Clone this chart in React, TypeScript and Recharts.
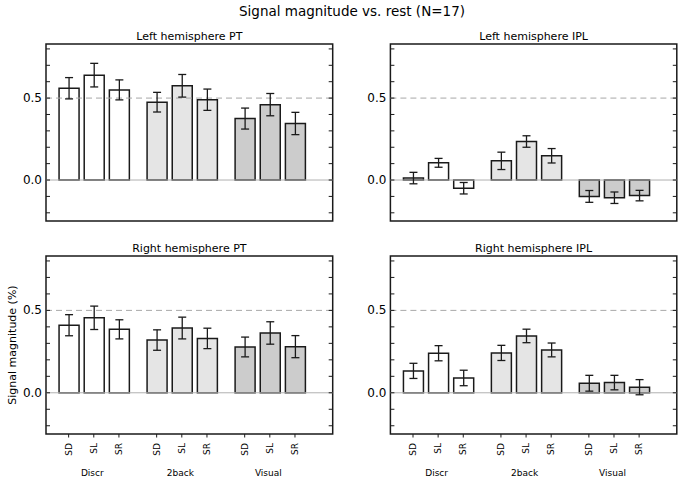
import React from "react";
import {
  BarChart,
  Bar,
  XAxis,
  YAxis,
  ErrorBar,
  Cell,
  ReferenceLine,
  ReferenceArea,
} from "recharts";

const groups = ["Discr", "2back", "Visual"];
const conditions = ["SD", "SL", "SR"];
const yTicks = [-0.2, -0.1, 0, 0.1, 0.2, 0.3, 0.4, 0.5, 0.6, 0.7, 0.8];
const yLabels = [0, 0.5];

// mean signal per bar (Discr SD/SL/SR, 2back SD/SL/SR, Visual SD/SL/SR)
const leftPT = [0.56, 0.64, 0.55, 0.475, 0.575, 0.49, 0.375, 0.46, 0.345];
const leftPTErr = [0.065, 0.072, 0.061, 0.06, 0.069, 0.065, 0.064, 0.068, 0.068];
const leftIPL = [0.012, 0.105, -0.05, 0.117, 0.235, 0.148, -0.1, -0.108, -0.095];
const leftIPLErr = [0.035, 0.027, 0.035, 0.053, 0.035, 0.044, 0.036, 0.035, 0.032];
const rightPT = [0.41, 0.455, 0.385, 0.32, 0.393, 0.33, 0.278, 0.363, 0.28];
const rightPTErr = [0.064, 0.071, 0.058, 0.062, 0.066, 0.062, 0.06, 0.068, 0.067];
const rightIPL = [0.133, 0.24, 0.09, 0.242, 0.345, 0.26, 0.058, 0.062, 0.034];
const rightIPLErr = [0.046, 0.046, 0.047, 0.046, 0.041, 0.042, 0.048, 0.044, 0.046];

const GROUP_FILLS = ["#ffffff", "#e5e5e5", "#cccccc"];
const GROUP_STEP = 3.5;
const X_MIN = -0.9;
const X_MAX = 10.5;
const Y_MIN = -0.25;
const Y_MAX = 0.83;
const FONT = "'DejaVu Sans', sans-serif";
const INK = "#1a1a1a";

const xPos = groups.flatMap((_, gi) => conditions.map((_, ci) => gi * GROUP_STEP + ci));

const buildRows = (values: number[], errs: number[]) =>
  values.map((v, i) => ({ x: xPos[i], value: v, err: errs[i], group: Math.floor(i / 3) }));

const isLabeled = (v: number) => yLabels.some((l) => Math.abs(l - v) < 1e-9);

const LeftTick = (props: any) => {
  const { x, y, payload } = props;
  const v = payload.value;
  return (
    <g>
      <line x1={x} x2={x + 4} y1={y} y2={y} stroke={INK} strokeWidth={1} />
      {isLabeled(v) && (
        <text
          x={x - 4}
          y={y}
          textAnchor="end"
          dominantBaseline="central"
          fontSize={12}
          fontFamily={FONT}
          fill="#000"
        >
          {v.toFixed(1)}
        </text>
      )}
    </g>
  );
};

const RightTick = (props: any) => {
  const { x, y } = props;
  return <line x1={x} x2={x - 4} y1={y} y2={y} stroke={INK} strokeWidth={1} />;
};

const BottomTick = (props: any) => {
  const { x, y, payload } = props;
  const i = xPos.findIndex((p) => Math.abs(p - payload.value) < 1e-6);
  if (i < 0) return null;
  return (
    <g>
      <line x1={x} x2={x} y1={y} y2={y + 3.5} stroke={INK} strokeWidth={1} />
      <text
        transform={`translate(${x},${y + 9}) rotate(-90)`}
        textAnchor="end"
        dominantBaseline="central"
        fontSize={9}
        fontFamily={FONT}
        fill="#000"
      >
        {conditions[i % 3]}
      </text>
      {i % 3 === 1 && (
        <text
          x={x - 1.5}
          y={y + 39}
          textAnchor="middle"
          dominantBaseline="central"
          fontSize={9}
          fontFamily={FONT}
          fill="#000"
        >
          {groups[Math.floor(i / 3)]}
        </text>
      )}
    </g>
  );
};

type Panel = {
  title: string;
  values: number[];
  errs: number[];
  left: number;
  top: number;
  boxLeft: number;
  boxRight: number;
  boxTop: number;
  boxBottom: number;
  bottomAxis: boolean;
};

const panels: Panel[] = [
  { title: "Left hemisphere PT", values: leftPT, errs: leftPTErr, left: 0, top: 0, boxLeft: 46, boxRight: 332.7, boxTop: 44, boxBottom: 221, bottomAxis: false },
  { title: "Left hemisphere IPL", values: leftIPL, errs: leftIPLErr, left: 340, top: 0, boxLeft: 390.4, boxRight: 676.8, boxTop: 44, boxBottom: 221, bottomAxis: false },
  { title: "Right hemisphere PT", values: rightPT, errs: rightPTErr, left: 0, top: 240, boxLeft: 46, boxRight: 332.7, boxTop: 256, boxBottom: 434, bottomAxis: true },
  { title: "Right hemisphere IPL", values: rightIPL, errs: rightIPLErr, left: 340, top: 240, boxLeft: 390.4, boxRight: 676.8, boxTop: 256, boxBottom: 434, bottomAxis: true },
];

const PanelChart = ({ p }: { p: Panel }) => {
  const W = 340;
  const H = 240;
  const xAxisHeight = p.bottomAxis ? p.top + H - p.boxBottom : 0;
  const rows = buildRows(p.values, p.errs);
  return (
    <div style={{ position: "absolute", left: p.left, top: p.top, width: W, height: H }}>
      <BarChart
        width={W}
        height={H}
        data={rows}
        margin={{
          top: p.boxTop - p.top,
          bottom: p.bottomAxis ? 0 : p.top + H - p.boxBottom,
          left: 0,
          right: 0,
        }}
      >
        <XAxis
          dataKey="x"
          type="number"
          domain={[X_MIN, X_MAX]}
          allowDataOverflow
          ticks={xPos}
          interval={0}
          hide={!p.bottomAxis}
          height={xAxisHeight}
          axisLine={false}
          tickLine={false}
          tickSize={0}
          tickMargin={0}
          tick={BottomTick}
        />
        <YAxis
          yAxisId="l"
          type="number"
          domain={[Y_MIN, Y_MAX]}
          allowDataOverflow
          ticks={yTicks}
          interval={0}
          width={p.boxLeft - p.left}
          axisLine={false}
          tickLine={false}
          tickSize={0}
          tickMargin={0}
          tick={LeftTick}
        />
        <YAxis
          yAxisId="r"
          orientation="right"
          type="number"
          domain={[Y_MIN, Y_MAX]}
          allowDataOverflow
          ticks={yTicks}
          interval={0}
          width={p.left + W - p.boxRight}
          axisLine={false}
          tickLine={false}
          tickSize={0}
          tickMargin={0}
          tick={RightTick}
        />
        <ReferenceLine yAxisId="l" y={0} stroke="#b0b0b0" strokeWidth={1} />
        <ReferenceLine yAxisId="l" y={0.5} stroke="#a8a8a8" strokeWidth={1} strokeDasharray="6 4" />
        <Bar
          yAxisId="l"
          dataKey="value"
          barSize={20}
          stroke={INK}
          strokeWidth={1.5}
          isAnimationActive={false}
        >
          {rows.map((r, i) => (
            <Cell key={i} fill={GROUP_FILLS[r.group]} />
          ))}
          <ErrorBar
            dataKey="err"
            width={4}
            stroke={INK}
            strokeWidth={1.3}
            direction="y"
            isAnimationActive={false}
          />
        </Bar>
        <ReferenceArea
          yAxisId="l"
          x1={X_MIN}
          x2={X_MAX}
          y1={Y_MIN}
          y2={Y_MAX}
          fill="none"
          fillOpacity={0}
          stroke={INK}
          strokeWidth={1.5}
        />
      </BarChart>
      <div
        style={{
          position: "absolute",
          left: (p.boxLeft + p.boxRight) / 2 - p.left,
          top: p.boxTop - p.top - 8.5,
          transform: "translate(-50%, -50%)",
          fontSize: 11,
          lineHeight: 1,
          whiteSpace: "nowrap",
          color: "#000",
        }}
      >
        {p.title}
      </div>
    </div>
  );
};

export default function App() {
  return (
    <div
      style={{
        position: "absolute",
        left: 0,
        top: 0,
        width: 680,
        height: 480,
        background: "#fff",
        fontFamily: FONT,
        overflow: "hidden",
      }}
    >
      <div
        style={{
          position: "absolute",
          left: 352,
          top: 12,
          transform: "translate(-50%, -50%)",
          fontSize: 13.5,
          lineHeight: 1,
          whiteSpace: "nowrap",
        }}
      >
        Signal magnitude vs. rest (N=17)
      </div>
      {panels.map((p) => (
        <PanelChart key={p.title} p={p} />
      ))}
      <div
        style={{
          position: "absolute",
          left: 12,
          top: 345,
          transform: "translate(-50%, -50%) rotate(-90deg)",
          fontSize: 11,
          lineHeight: 1,
          whiteSpace: "nowrap",
        }}
      >
        Signal magnitude (%)
      </div>
    </div>
  );
}
